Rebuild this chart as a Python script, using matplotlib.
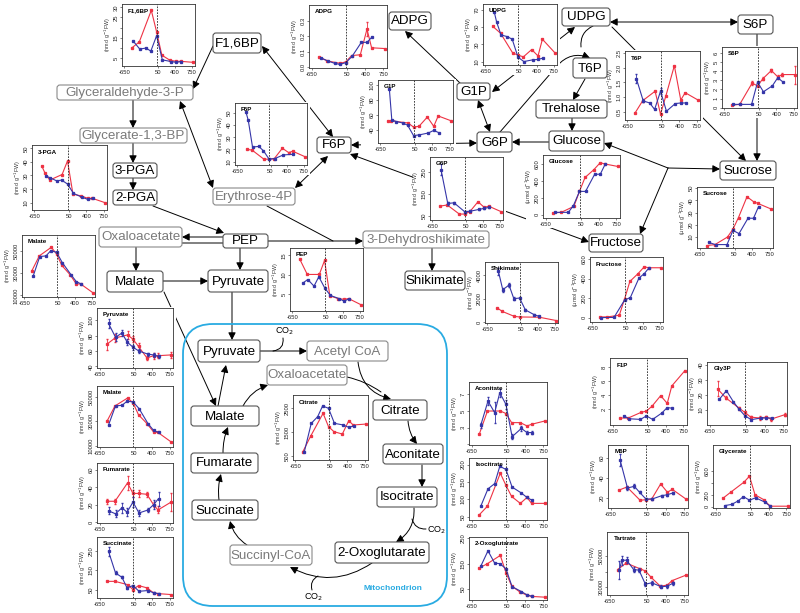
import numpy as np
import matplotlib.pyplot as plt
from matplotlib.patches import FancyBboxPatch, FancyArrowPatch, Rectangle

plt.rcParams['font.family'] = ['Liberation Sans', 'DejaVu Sans']

W, H = 800, 613
nan = np.nan

# sampling times (same for every metabolite), red and blue series
XR = [-500, -440, -340, -90, 20, 130, 300, 430, 520, 780]
XB = [-470, -420, -330, -200, -100, 20, 140, 320, 430, 530]
XTICKS = [-650, 50, 400, 750]

# ---- values ----
f16bp_red = [10, nan, 13, 28.5, 18, 6.5, 4, 3.5, 3.5, 3]
f16bp_blue = [13.5, nan, 9.5, 10, 8.5, 16, 4.2, 3.4, 3, 3.4]
adpg_red = [0.065, nan, 0.04, 0.025, 0.035, 0.075, 0.08, 0.245, 0.125, 0.12]
adpg_blue = [0.06, nan, 0.04, 0.025, 0.018, 0.03, 0.07, 0.16, 0.16, 0.195]
udpg_red = [51, nan, 43, 20, 17.5, 15.5, 24, 16.5, 36, 20]
udpg_blue = [68, 56, 41, 39, 36, 15, 10, 12, 12.5, 14]
g1p_red = [52, 52, nan, 49, 43.5, 44.5, 57, 44.5, 58.5, 52]
g1p_blue = [95, 53, 51, 49, 46, 32, 33, 35.5, 39, 36]
f6p_red = [nan, 20, 19.5, 12, 12, 12.5, 21, 17.5, 18.5, 14]
f6p_blue = [51, 44, 22, 22.5, 19, 12, 12.5, 15.5, nan, 16]
t6p_red = [0.45, nan, 0.88, 1.2, 0.42, 1.05, 2.07, 0.9, 1.15, 0.9]
t6p_blue = [1.63, nan, 0.87, 0.8, 0.58, 1.2, 0.52, 0.78, 0.8, 0.8]
s6p_red = [0.25, nan, 0.36, 2.7, 2.4, 3.2, 4.1, 3.4, 3.65, 3.65]
s6p_blue = [0.35, nan, 0.35, nan, 0.35, 2.8, 1.75, 2.4, 3.3, 2.85]
pga3_red = [36.8, 32, 26.6, 30.7, 40.7, 16.3, 14.9, 13.2, 13.2, 10]
pga3_blue = [nan, 29.5, 28.3, 26, 26.6, 23.7, 16.8, 13.9, 12.4, 13.2]
g6p_red = [95, nan, 100, 59, 59, 70, 115, 89, 95, 70]
g6p_blue = [260, nan, 107, 110, nan, 70, 72, 80, 85, 89]
glucose_red = [20, nan, 27, 98, 275, 440, 530, 615, 600, 570]
glucose_blue = [27, nan, nan, 27, 106, 275, 275, 478, 478, 600]
sucrose_red = [3, nan, 3.8, 10, 16.5, 26, 43, 39, 37.5, 33]
sucrose_blue = [5.6, nan, 3.8, nan, 3.8, 15.4, 12.8, 25.4, 25.4, 34.8]
malate_c_red = [31500, nan, 45300, 53000, 47000, 36700, 28500, 20200, 20200, 12200]
malate_c_blue = [26900, nan, 44700, 45300, 50000, 48500, 39200, 28500, 22300, 20200]
pep_red = [14.1, nan, 10.1, 10.1, 13.7, 4.6, 3.9, 3.7, 3.9, 2.3]
pep_blue = [nan, 8, 8.8, 7.1, 9.5, 6.7, 4.7, 3.9, 3.2, 3.9]
shikimate_red = [nan, 1200, 920, 500, 450, nan, nan, 430, nan, 150]
shikimate_blue = [nan, 4300, 2750, 3150, 2000, 2050, 1050, 650, 500, nan]
fructose_red = [7, nan, 7, 24, 190, 370, 450, 520, 510, 510]
fructose_blue = [0, nan, nan, 2, nan, 180, 205, 405, 450, 510]
pyruvate_red = [69, nan, 77, 81, 75.5, 66, 51, 54, 54, 55]
pyruvate_blue = [96, nan, 78, 83.5, 72, 65, 60, 56, 55, 53]
malate_m_red = [30000, nan, 42400, 48800, 45000, 35200, 28000, 21300, 20800, 13200]
malate_m_blue = [26800, nan, 42400, 42900, 46200, 45700, 40300, 28000, 22600, 20800]
fumarate_red = [24, nan, 24, 45, 33, 33, 32, 20, 14, 23]
fumarate_blue = [13, nan, 9.6, 16.5, 11.5, 23, 10.5, 14, 20, 27]
succinate_red = [93, nan, 93, 76, 50, 71, 59, 33, 29, 24]
succinate_blue = [250, nan, 137, 114, 59, 71, 41, 45, 33, 29]
citrate_red = [680, nan, 1340, 2290, 1730, 1520, 1420, 1980, 1800, 1840]
citrate_blue = [680, nan, 1870, 2150, 2600, 2500, 1870, 1800, 1700, 1760]
aconitate_red = [2.2, nan, 5, 5, 4.7, 3.6, 3.6, 3.2, 3.4, 3.8]
aconitate_blue = [3.3, nan, 6.2, 4.8, 7.2, 5.8, 1.9, 2.9, 2.4, 2.4]
isocitrate_red = [55, nan, 80, 175, 140, 108, 88, 105, 88, 88]
isocitrate_blue = [80, nan, 130, 145, 195, 186, 135, 118, 105, 97]
oxoglut_red = [133, nan, 150, 182, 115, 63, 38, 27, 22, 19]
oxoglut_blue = [140, nan, 200, 152, 150, 130, 60, 41, 28, 22]
f1p_red = [0.7, nan, 0.7, 1.5, 1.7, 2.4, 3.9, 2.8, 5.3, 7.5]
f1p_blue = [nan, 1.0, 0.6, nan, 0.5, 1.0, 0.5, 1.4, 2.2, 2.1]
gly3p_red = [24, nan, 18, 11.3, 8.5, 5.4, 4.8, 5.4, 4.1, 7]
gly3p_blue = [17, nan, 22.8, 15.6, 11, 6.3, 3.7, 4.8, 4.8, 4.8]
m6p_red = [27.7, nan, 31, 17.7, 18.3, 19, 34, 25.7, 28.7, 19]
m6p_blue = [58, nan, 30, 31.7, 25.7, 19, 19, 22.3, 23.3, 25]
glycerate_red = [145, nan, 250, 410, 510, 200, 120, 10, nan, 10]
glycerate_blue = [20, nan, 40, 100, 170, 110, 150, 80, 10, nan]
tartrate_red = [41300, nan, 45600, 41900, 40400, 36100, 30400, 31100, 34000, 37600]
tartrate_blue = [40900, 47400, 47400, 41300, 40900, 31700, 32600, 30000, 30400, 32200]

# a few visible error bars
fumarate_red_err = [3, 0, 3, 8, 4, 4, 3, 3, 4, 10]
fumarate_blue_err = [4, 0, 4, 6, 5, 6, 3, 2, 5, 8]
pyruvate_red_err = [7, 0, 5, 5, 4, 4, 3, 4, 3, 4]
pyruvate_blue_err = [6, 0, 5, 4, 4, 3, 3, 2, 3, 2]
s6p_red_err = [0, 0, 0, 0.2, 0, 0.2, 0.2, 0.2, 0.2, 1.0]
succinate_blue_err = [25, 0, 8, 6, 5, 5, 4, 4, 3, 2]
g6p_blue_err = [25, 0, 8, 5, 0, 5, 4, 4, 4, 4]
shikimate_blue_err = [0, 300, 150, 150, 100, 100, 80, 60, 50, 0]
gly3p_red_err = [5, 0, 1, 1, 1, 1, 1, 1, 1, 1]
tartrate_blue_err = [6000, 3000, 2000, 1500, 1500, 1500, 1500, 1000, 1000, 1000]
m6p_blue_err = [6, 0, 2, 2, 1, 1, 1, 1, 1, 1]
t6p_blue_err = [0.15, 0, 0.05, 0, 0, 0.1, 0, 0, 0, 0]
aconitate_blue_err = [0.3, 0, 0.5, 1.3, 0.5, 0.5, 0.3, 0.3, 0.2, 0.2]
adpg_red_err = [0, 0, 0, 0, 0, 0, 0, 0.045, 0, 0]

fig = plt.figure(figsize=(8, 6.13), dpi=100)
bg = fig.add_axes([0, 0, 1, 1])
bg.set_xlim(0, W)
bg.set_ylim(H, 0)
bg.axis('off')

RED = '#ee3344'
BLUE = '#3535a8'


def arrow(p, q, style='-|>', rad=0.0, lw=0.7):
    if style != '-':
        style = style + ',head_length=0.55,head_width=0.28'
    bg.add_patch(FancyArrowPatch(p, q, arrowstyle=style, mutation_scale=8, lw=lw,
                                 color='k', connectionstyle='arc3,rad=%s' % rad,
                                 shrinkA=0, shrinkB=0, zorder=1))


def node(text, x0, y0, x1, y1, gray=False, fs=9.6):
    ec = '#8a8a8a' if gray else '#555555'
    tc = '#7a7a7a' if gray else 'black'
    bg.add_patch(FancyBboxPatch((x0, y0), x1 - x0, y1 - y0,
                                boxstyle='round,pad=0,rounding_size=3',
                                fc='white', ec=ec, lw=0.8, zorder=3))
    bg.text((x0 + x1) / 2, (y0 + y1) / 2 + 0.5, text, ha='center', va='center',
            fontsize=fs, color=tc, zorder=4)


def panel(title, box, red, blue, yticks, ylim, ylabels=None, unit='nmol',
          red_err=None, blue_err=None):
    l, t, r, b = box
    bg.add_patch(Rectangle((l - 17, t - 1), r - l + 20, b - t + 11, fc='white',
                           ec='none', zorder=2))
    ax = fig.add_axes([l / W, 1 - b / H, (r - l) / W, (b - t) / H])
    for xs, ys, err, col in [(XR, red, red_err, RED), (XB, blue, blue_err, BLUE)]:
        xs = np.array(xs, float)
        ys = np.array(ys, float)
        ok = ~np.isnan(ys)
        ax.plot(xs[ok], ys[ok], color=col, lw=0.8, marker='s', ms=1.4)
        if err is not None:
            e = np.array(err, float)
            ax.errorbar(xs[ok], ys[ok], yerr=e[ok], fmt='none', ecolor=col,
                        elinewidth=0.6, capsize=1)
    ax.axvline(25, color='#222222', ls=(0, (2, 1.5)), lw=0.6)
    ax.set_xlim(-700, 820)
    ax.set_ylim(*ylim)
    ax.set_xticks(XTICKS)
    ax.set_xticklabels([str(v) for v in XTICKS])
    ax.set_yticks(yticks)
    if ylabels is None:
        ylabels = [('%g' % v) for v in yticks]
    ax.set_yticklabels(ylabels, rotation=90, va='center')
    ax.tick_params(labelsize=4.2, length=1.6, width=0.4, pad=1, colors='#222222')
    for s in ax.spines.values():
        s.set_linewidth(0.6)
        s.set_color('#333333')
    u = r'$\mu$mol' if unit == 'umol' else 'nmol'
    ax.set_ylabel('(%s g$^{-1}$FW)' % u, fontsize=3.8, labelpad=0.5, color='#333333')
    ax.text(0.08, 0.93, title, transform=ax.transAxes, va='top', ha='left',
            fontsize=4.5, fontweight='bold')
    return ax


# ---- arrows of the pathway (pixel coordinates) ----
arrow((213, 46), (193, 89))
arrow((262, 46), (333, 137), '<|-|>')
arrow((133, 100), (133, 128))
arrow((133, 143), (133, 163))
arrow((133, 178), (133, 190))
arrow((180, 101), (213, 188), '<|-|>')
arrow((295, 188), (328, 156), '<|-|>')
arrow((351, 145), (477, 143), '<|-|>')
arrow((350, 154), (589, 242), '<|-|>')
arrow((478, 100), (490, 132), '<|-|>')
arrow((460, 83), (405, 31))
arrow((492, 92), (575, 27), '<|-|>')
arrow((610, 22), (738, 22), '<|-|>')
arrow((612, 27), (746, 161))
arrow((757, 34), (757, 161))
# UDPG and G6P feeding T6P
arrow((593, 26), (581, 47), '-', rad=0.35)
arrow((500, 132), (557, 66), '-')
arrow((557, 66), (590, 58), rad=-0.35)
arrow((585, 79), (573, 100))
arrow((572, 118), (572, 131))
arrow((549, 142), (512, 142))
J = (668, 168)
arrow(J, (720, 169))
arrow(J, (604, 143))
arrow(J, (640, 234))
arrow((153, 206), (224, 233))
arrow((223, 237), (182, 237))
arrow((182, 243), (223, 243), '-')
arrow((268, 241), (363, 241))
arrow((267, 206), (333, 241), '-')
arrow((136, 247), (136, 271))
arrow((163, 281), (208, 281))
arrow((240, 248), (240, 270))
arrow((432, 248), (432, 271))
arrow((232, 292), (232, 340))
arrow((164, 292), (216, 406))
arrow((218, 406), (226, 365))

# mitochondrion
bg.add_patch(FancyBboxPatch((183, 324), 264, 282, boxstyle='round,pad=0,rounding_size=30',
                            fc='none', ec='#29abe2', lw=1.3, zorder=1))
bg.text(393, 588, 'Mitochondrion', color='#29abe2', fontsize=6, fontweight='bold',
        ha='center', va='center')
arrow((260, 351), (307, 351))
arrow((273, 351), (283, 338), '-', rad=0.5)
bg.text(284, 331, 'CO$_2$', fontsize=6.5, ha='center', va='center')
arrow((358, 362), (391, 399), rad=0.35)
arrow((347, 377), (381, 392), '-', rad=-0.1)
arrow((408, 421), (417, 444), rad=0.15)
arrow((422, 465), (422, 487))
arrow((414, 508), (396, 542), rad=-0.3)
arrow((412, 519), (426, 529), '-', rad=0.4)
bg.text(436, 530, 'CO$_2$', fontsize=6.5, ha='center', va='center')
arrow((372, 563), (290, 567), rad=-0.3)
arrow((318, 576), (312, 590), '-', rad=0.4)
bg.text(313, 597, 'CO$_2$', fontsize=6.5, ha='center', va='center')
arrow((247, 545), (230, 521), rad=-0.2)
arrow((219, 500), (221, 474), rad=-0.1)
arrow((223, 453), (228, 427), rad=-0.1)
arrow((243, 406), (268, 385), rad=-0.2)

# ---- metabolite nodes ----
node('F1,6BP', 213, 33, 261, 53)
node('Glyceraldehyde-3-P', 57, 85, 193, 100, True)
node('Glycerate-1,3-BP', 80, 128, 187, 143, True)
node('3-PGA', 113, 163, 157, 178)
node('2-PGA', 113, 190, 157, 205)
node('Erythrose-4P', 213, 188, 295, 205, True)
node('F6P', 317, 137, 351, 153)
node('ADPG', 389, 12, 431, 30)
node('UDPG', 562, 8, 610, 26)
node('S6P', 738, 15, 773, 34)
node('G1P', 457, 83, 490, 100)
node('T6P', 573, 58, 607, 78)
node('Trehalose', 536, 100, 607, 118)
node('G6P', 477, 132, 512, 152)
node('Glucose', 549, 131, 604, 151)
node('Sucrose', 720, 161, 776, 180)
node('Fructose', 589, 234, 643, 252)
node('Oxaloacetate', 99, 227, 182, 247, True)
node('PEP', 223, 234, 268, 248)
node('3-Dehydroshikimate', 363, 231, 489, 248, True)
node('Malate', 107, 271, 163, 292)
node('Pyruvate', 208, 270, 268, 292)
node('Shikimate', 405, 271, 465, 290)
node('Pyruvate', 198, 340, 260, 362)
node('Acetyl CoA', 307, 341, 388, 361, True)
node('Oxaloacetate', 267, 365, 347, 385, True)
node('Citrate', 373, 400, 427, 420)
node('Aconitate', 383, 444, 443, 464)
node('Isocitrate', 377, 487, 437, 507)
node('2-Oxoglutarate', 335, 542, 429, 563)
node('Succinyl-CoA', 230, 545, 312, 565, True)
node('Succinate', 192, 500, 258, 520)
node('Fumarate', 191, 453, 258, 473)
node('Malate', 191, 406, 259, 426)

# ---- metabolite panels ----
panel('F1,6BP', (122, 4, 195, 66), f16bp_red, f16bp_blue, [5, 10, 15, 20, 25, 30], (1.2, 31.6),
      ['5', '', '15', '', '25', '30'])
panel('ADPG', (309, 5, 387, 68), adpg_red, adpg_blue, [0, 0.1, 0.2, 0.3], (-0.005, 0.4),
      ['0.0', '0.1', '0.2', '0.3'], red_err=adpg_red_err)
panel('UDPG', (483, 4, 557, 65), udpg_red, udpg_blue, [10, 30, 50, 70], (6, 77))
panel('G1P', (378, 80, 453, 143), g1p_red, g1p_blue, [40, 60, 80, 100], (22, 107))
panel('F6P', (235, 103, 307, 165), f6p_red, f6p_blue, [10, 20, 30, 40, 50], (7.2, 58.3))
panel('T6P', (625, 51, 700, 120), t6p_red, t6p_blue, [0.5, 1.0, 1.5, 2.0, 2.5], (0.22, 2.57),
      ['0.5', '1.0', '1.5', '2.0', '2.5'], blue_err=t6p_blue_err)
panel('S6P', (722, 47, 797, 108), s6p_red, s6p_blue, [0, 1, 2, 3, 4, 5, 6], (-0.05, 6.7),
      red_err=s6p_red_err)
panel('3-PGA', (32, 145, 107, 210), pga3_red, pga3_blue, [10, 20, 30, 40, 50], (4.6, 52.4))
panel('G6P', (430, 157, 503, 220), g6p_red, g6p_blue, [50, 150, 250], (32, 318),
      blue_err=g6p_blue_err)
panel('Glucose', (543, 155, 620, 218), glucose_red, glucose_blue, [0, 200, 400, 600], (-40, 706),
      unit='umol')
panel('Sucrose', (697, 187, 773, 248), sucrose_red, sucrose_blue, [10, 20, 30, 40, 50], (1, 51),
      unit='umol')
panel('Malate', (22, 235, 95, 297), malate_c_red, malate_c_blue, [10000, 30000, 50000], (8500, 64000))
panel('PEP', (290, 248, 363, 311), pep_red, pep_blue, [5, 10, 15], (0.7, 16.9))
panel('Shikimate', (485, 262, 558, 323), shikimate_red, shikimate_blue, [0, 2000, 4000], (-60, 5100),
      blue_err=shikimate_blue_err)
panel('Fructose', (590, 257, 663, 322), fructose_red, fructose_blue, [0, 200, 400, 600], (-45, 620),
      unit='umol')
panel('Pyruvate', (97, 308, 173, 368), pyruvate_red, pyruvate_blue, [40, 60, 80, 100], (38, 116),
      red_err=pyruvate_red_err, blue_err=pyruvate_blue_err)
panel('Malate', (97, 386, 173, 447), malate_m_red, malate_m_blue, [10000, 30000, 50000], (9000, 58600))
panel('Fumarate', (97, 463, 173, 523), fumarate_red, fumarate_blue, [0, 20, 40, 60], (-1, 68),
      red_err=fumarate_red_err, blue_err=fumarate_blue_err)
panel('Succinate', (97, 537, 173, 598), succinate_red, succinate_blue, [50, 150, 250], (6, 325),
      blue_err=succinate_blue_err)
panel('Citrate', (293, 395, 368, 460), citrate_red, citrate_blue, [500, 1500, 2500], (330, 3060))
panel('Aconitate', (469, 382, 547, 445), aconitate_red, aconitate_blue, [1, 3, 5, 7], (0.9, 8.5),
      ['', '3', '5', '7'], blue_err=aconitate_blue_err)
panel('Isocitrate', (469, 458, 547, 520), isocitrate_red, isocitrate_blue, [50, 100, 150, 200], (40, 219))
panel('2-Oxoglutarate', (469, 537, 547, 600), oxoglut_red, oxoglut_blue, [50, 150, 250], (8, 254))
panel('F1P', (610, 358, 687, 425), f1p_red, f1p_blue, [2, 4, 6, 8], (-0.3, 9.3))
panel('Gly3P', (707, 362, 787, 425), gly3p_red, gly3p_blue, [10, 20, 30, 40], (0.2, 41.7),
      red_err=gly3p_red_err)
panel('M6P', (608, 445, 688, 508), m6p_red, m6p_blue, [20, 40, 60], (10, 73), blue_err=m6p_blue_err)
panel('Glycerate', (713, 445, 790, 508), glycerate_red, glycerate_blue, [0, 200, 400, 600], (-20, 1030),
      ['0', '200', '', '600'])
panel('Tartrate', (607, 532, 688, 595), tartrate_red, tartrate_blue, [30000, 40000, 50000],
      (24600, 65900), ['30000', '', '50000'], blue_err=tartrate_blue_err)

fig.savefig('out.png', dpi=100)
